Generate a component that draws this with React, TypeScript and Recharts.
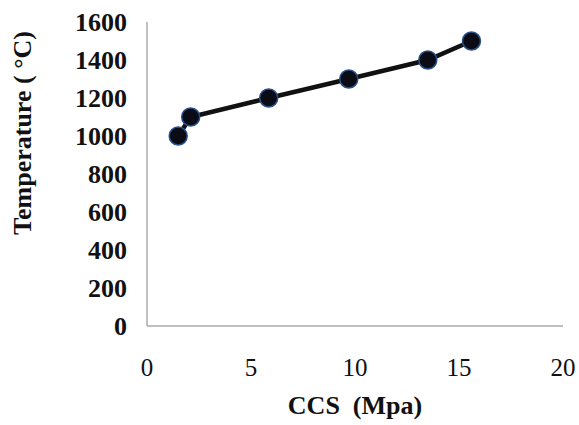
import React from "react";
import { LineChart, Line, XAxis, YAxis, Label } from "recharts";

const ccs: number[] = [1.5, 2.1, 5.85, 9.7, 13.5, 15.6];
const temperature: number[] = [1000, 1100, 1200, 1300, 1400, 1500];
const xTicks: number[] = [0, 5, 10, 15, 20];
const yTicks: number[] = [0, 200, 400, 600, 800, 1000, 1200, 1400, 1600];
const xTitle = "CCS \u00A0(Mpa)";
const yTitle = "Temperature ( \u00B0C)";

const data = ccs.map((x, i) => ({ x, t: temperature[i] }));

const serif = "'Liberation Serif', 'Times New Roman', serif";

const YTitle = (props: any) => {
  const vb = props.viewBox || { x: 0, y: 0, width: 0, height: 0 };
  const cx = vb.x + 22;
  const cy = 133;
  return (
    <text
      x={cx}
      y={cy}
      transform={`rotate(-90, ${cx}, ${cy})`}
      textAnchor="middle"
      dominantBaseline="central"
      fontFamily={serif}
      fontWeight="bold"
      fontSize={26}
      fill="#111"
    >
      {yTitle}
    </text>
  );
};

const XTitle = (props: any) => {
  const vb = props.viewBox || { x: 0, y: 0, width: 0, height: 0 };
  const cx = vb.x + vb.width / 2;
  const cy = 405;
  return (
    <text
      x={cx}
      y={cy}
      textAnchor="middle"
      dominantBaseline="central"
      fontFamily={serif}
      fontWeight="bold"
      fontSize={26}
      fill="#111"
    >
      {xTitle}
    </text>
  );
};

export default function App() {
  return (
    <div style={{ position: "absolute", left: 0, top: 0, background: "#fff" }}>
      <LineChart
        width={579}
        height={425}
        data={data}
        margin={{ top: 22, right: 16, bottom: 0, left: 0 }}
      >
        <XAxis
          dataKey="x"
          type="number"
          domain={[0, 20]}
          ticks={xTicks}
          interval={0}
          height={99}
          tickLine={false}
          tickSize={0}
          tickMargin={32}
          axisLine={{ stroke: "#a8acb0", strokeWidth: 1.5 }}
          tick={{ fontFamily: serif, fontSize: 25, fill: "#111" }}
        >
          <Label content={<XTitle />} />
        </XAxis>
        <YAxis
          dataKey="t"
          type="number"
          domain={[0, 1600]}
          ticks={yTicks}
          interval={0}
          width={147}
          tickLine={false}
          tickSize={0}
          tickMargin={20}
          axisLine={{ stroke: "#a8acb0", strokeWidth: 1.5 }}
          tick={{ fontFamily: serif, fontSize: 26, fontWeight: "bold", fill: "#111" }}
        >
          <Label content={<YTitle />} />
        </YAxis>
        <Line
          dataKey="t"
          type="linear"
          stroke="#111"
          strokeWidth={4.5}
          isAnimationActive={false}
          dot={{ r: 9, fill: "#0b0b16", stroke: "#27508a", strokeWidth: 1.5 }}
          activeDot={false}
        />
      </LineChart>
    </div>
  );
}
